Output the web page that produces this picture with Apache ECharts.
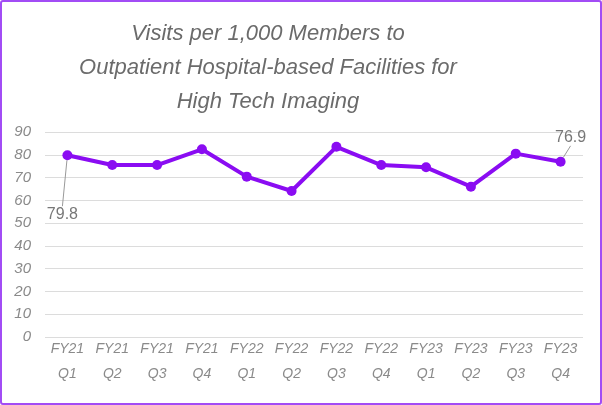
<!DOCTYPE html>
<html>
<head>
<meta charset="utf-8">
<script src="https://cdn.jsdelivr.net/npm/echarts@6/dist/echarts.min.js"></script>
<style>
  html, body { margin: 0; padding: 0; background: #fff; }
  #chart {
    width: 602px; height: 405px; box-sizing: border-box;
    border: 2px solid #a24cf5; border-radius: 3px;
  }
</style>
</head>
<body>
<div id="chart"></div>
<script>
// quarters on the x axis
var quarters = ['FY21\nQ1', 'FY21\nQ2', 'FY21\nQ3', 'FY21\nQ4',
                'FY22\nQ1', 'FY22\nQ2', 'FY22\nQ3', 'FY22\nQ4',
                'FY23\nQ1', 'FY23\nQ2', 'FY23\nQ3', 'FY23\nQ4'];
// visits per 1,000 members
var visits = [79.8, 75.5, 75.5, 82.4, 70.4, 64.1, 83.5, 75.5, 74.5, 66.0, 80.5, 76.9];
var labelled = [0, 11];

var chart = echarts.init(document.getElementById('chart'));
var font = '"Liberation Sans", Arial, sans-serif';

var option = {
    animation: false,
    title: {
        text: 'Visits per 1,000 Members to\nOutpatient Hospital-based Facilities for\nHigh Tech Imaging',
        left: 261,
        textAlign: 'center',
        top: 10,
        textStyle: {
            fontFamily: font,
            fontStyle: 'italic',
            fontWeight: 'normal',
            fontSize: 22,
            lineHeight: 34,
            color: '#6b6b6b'
        }
    },
    grid: { left: 43, right: 17, top: 130, bottom: 66 },
    xAxis: {
        type: 'category',
        data: quarters,
        axisLine: { show: false },
        axisTick: { show: false },
        axisLabel: {
            fontFamily: font,
            fontStyle: 'italic',
            fontSize: 14,
            lineHeight: 25,
            color: '#8a8a8a',
            margin: 0
        }
    },
    yAxis: {
        type: 'value',
        min: 0,
        max: 90,
        interval: 10,
        axisLabel: {
            fontFamily: font,
            fontStyle: 'italic',
            fontSize: 15,
            color: '#8a8a8a',
            margin: 14
        },
        splitLine: { lineStyle: { color: '#dcdcdc', width: 1 } }
    },
    series: [{
        type: 'line',
        data: visits.map(function (v, i) {
            if (labelled.indexOf(i) < 0) return v;
            return {
                value: v,
                label: {
                    show: true,
                    position: 'top',
                    fontFamily: font,
                    fontSize: 16,
                    color: '#777'
                }
            };
        }),
        symbol: 'circle',
        symbolSize: 10,
        lineStyle: { color: '#8a0cf2', width: 4 },
        itemStyle: { color: '#8a0cf2' },
        labelLine: { show: true, lineStyle: { color: '#999', width: 1 } },
        labelLayout: function (p) {
            if (p.dataIndex === 0) return { dx: -5, dy: 77 };
            if (p.dataIndex === 11) return { dx: 10, dy: -6 };
            return {};
        }
    }]
};
chart.setOption(option);
</script>
</body>
</html>
